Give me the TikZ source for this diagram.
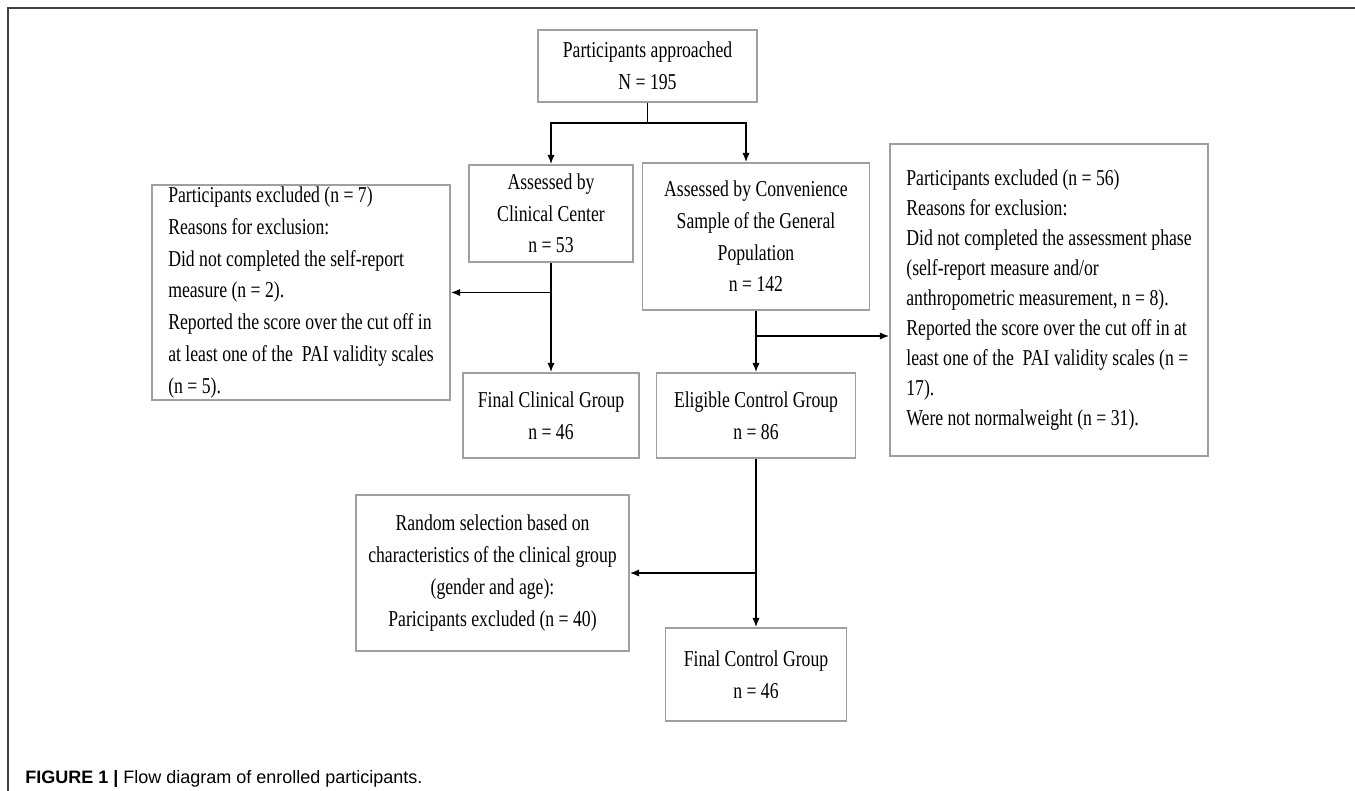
\documentclass[tikz,border=0pt]{standalone}
\usepackage{fontspec}
\newfontfamily\boxfont[FakeStretch=0.78]{Liberation Serif}
\newfontfamily\capfont{Liberation Sans}
\usepackage{tikz}
\usetikzlibrary{arrows.meta, positioning, calc}
\newdimen\px
\px=0.75pt

\begin{document}
\begin{tikzpicture}[x=0.75pt, y=-0.75pt,
    box/.style={draw=gray!75, line width=1.1pt, align=center, inner sep=0pt,
      font=\boxfont\fontsize{17}{23.8}\selectfont},
    sidebox/.style={box, align=left, font=\boxfont\fontsize{17}{22.5}\selectfont},
    line/.style={line width=1.3pt},
    arrow/.style={-{Latex[length=7pt, width=5.5pt]}, line width=1.3pt},
    frame/.style={draw=black!75, line width=1.5pt}
  ]
    \useasboundingbox (0,0) rectangle (1355,791);

    % Frame
    \draw[frame] (8,791) -- (8,8) -- (1355,8);

    % Approached
    \node[box, minimum width=219\px, minimum height=72\px] (approached) at (647.5,66) {
      Participants approached\\N = 195
    };

    % Clinical center
    \node[box, minimum width=164\px, minimum height=97\px] (clinical) at (551,213.5) {
      Assessed by\\Clinical Center\\n = 53
    };

    % Convenience sample
    \node[box, minimum width=227\px, minimum height=147\px] (conven) at (756,236.5) {
      Assessed by Convenience\\Sample of the General\\Population\\n = 142
    };

    % Exclusions (clinical)
    \node[box, align=left, minimum width=298\px, minimum height=215\px] (exclL) at (301,292.5) {
      Participants excluded (n = 7)\\
      Reasons for exclusion:\\
      Did not completed the self-report\\
      measure (n = 2).\\
      Reported the score over the cut off in\\
      at least one of the\ \ PAI validity scales\\
      (n = 5).
    };

    % Exclusions (convenience)
    \node[sidebox, minimum width=318\px, minimum height=312\px] (exclR) at (1049,300) {
      Participants excluded (n = 56)\\
      Reasons for exclusion:\\
      Did not completed the assessment phase\\
      (self-report measure and/or\\
      anthropometric measurement, n = 8).\\
      Reported the score over the cut off in at\\
      least one of the\ \ PAI validity scales (n =\\
      17).\\
      Were not normalweight (n = 31).
    };

    % Final clinical
    \node[box, minimum width=176\px, minimum height=85\px] (finalclin) at (551,415.5) {
      Final Clinical Group\\n = 46
    };

    % Eligible control
    \node[box, minimum width=199\px, minimum height=85\px] (eligible) at (756,415.5) {
      Eligible Control Group\\n = 86
    };

    % Random selection
    \node[box, minimum width=273\px, minimum height=156\px] (random) at (492.5,573) {
      Random selection based on\\characteristics of the clinical group\\(gender and age):\\Paricipants excluded (n = 40)
    };

    % Final control
    \node[box, minimum width=181\px, minimum height=93\px] (finalctrl) at (756,674.5) {
      Final Control Group\\n = 46
    };

    % Caption
    \node[anchor=west, inner sep=0pt, font=\capfont\fontsize{13.5}{16}\selectfont] (caption) at (25,779) {
      \textbf{FIGURE 1 |} Flow diagram of enrolled participants.
    };

    % Arrows
    \coordinate (split) at (647.5,123);
    \draw[line] (approached) -- (split);
    \draw[arrow] (split) -| (clinical);
    \draw[arrow] (split) -| ([xshift=-7.5pt]conven.north);

    \draw[arrow] (clinical) -- (finalclin);
    \draw[arrow] (exclL.east -| clinical.south) -- (exclL.east);

    \coordinate (convsplit) at (756,336);
    \draw[arrow] (conven) -- (eligible);
    \draw[arrow] (convsplit) -- (convsplit -| exclR.west);

    \draw[arrow] (eligible) -- (finalctrl);
    \draw[arrow] (random.east -| eligible.south) -- (random.east);

  \end{tikzpicture}
\end{document}
